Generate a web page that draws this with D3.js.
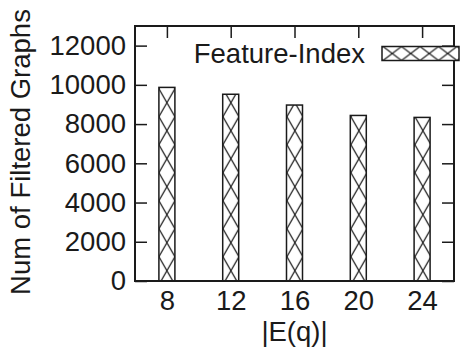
<!DOCTYPE html>
<html>
<head>
<meta charset="utf-8">
<script src="https://cdn.jsdelivr.net/npm/d3@7"></script>
<style>
  html, body { margin: 0; padding: 0; background: #fff; }
  svg { display: block; }
  text { font-family: "Liberation Sans", Arial, Helvetica, sans-serif; fill: #1a1a1a; }
</style>
</head>
<body>
<script>
const categories = [8, 12, 16, 20, 24];
const filteredGraphs = [9870, 9520, 8970, 8440, 8340];
const yTicks = [0, 2000, 4000, 6000, 8000, 10000, 12000];
const seriesName = "Feature-Index";
const xTitle = "|E(q)|";
const yTitle = "Num of Filtered Graphs";

const W = 462, H = 348;
const mLeft = 135, mRight = 454, mTop = 26, mBottom = 281;
const ink = "#1a1a1a";
const fontSize = 27.5;

const svg = d3.select("body").append("svg").attr("width", W).attr("height", H);

const x = d3.scalePoint().domain(categories).range([mLeft, mRight]).padding(0.5);
const y = d3.scaleLinear().domain([0, 13000]).range([mBottom, mTop]);
const barW = 16;

// patterns
const defs = svg.append("defs");
const bp = defs.append("pattern").attr("id", "hatchBar")
  .attr("patternUnits", "userSpaceOnUse")
  .attr("width", barW).attr("height", 28)
  .attr("x", x(categories[0]) - barW / 2).attr("y", y(0) - 24.3);
bp.append("rect").attr("width", barW).attr("height", 28).attr("fill", "#fff");
bp.append("path").attr("d", `M0,0L${barW},28M${barW},0L0,28`)
  .attr("stroke", ink).attr("stroke-width", 1.2).attr("fill", "none");

// axes (inward ticks)
const fmt = d3.format("d");
const gL = svg.append("g").attr("transform", `translate(${mLeft},0)`)
  .call(d3.axisLeft(y).tickValues(yTicks).tickSize(-12).tickPadding(9).tickFormat(fmt));
const gR = svg.append("g").attr("transform", `translate(${mRight},0)`)
  .call(d3.axisRight(y).tickValues(yTicks).tickSize(-12).tickFormat(""));
const gB = svg.append("g").attr("transform", `translate(0,${mBottom})`)
  .call(d3.axisBottom(x).tickSize(-12).tickPadding(9));
const gT = svg.append("g").attr("transform", `translate(0,${mTop})`)
  .call(d3.axisTop(x).tickSize(-12).tickFormat(""));

[gL, gR, gB, gT].forEach(g => {
  g.select(".domain").remove();
  g.selectAll(".tick line").attr("stroke", ink).attr("stroke-width", 1.5);
  g.selectAll(".tick text").attr("font-size", fontSize)
    .attr("font-family", '"Liberation Sans", Arial, sans-serif').attr("fill", ink);
});

// bars
svg.append("g").selectAll("rect").data(categories).join("rect")
  .attr("x", d => x(d) - barW / 2)
  .attr("y", (d, i) => y(filteredGraphs[i]))
  .attr("width", barW)
  .attr("height", (d, i) => y(0) - y(filteredGraphs[i]))
  .attr("fill", "url(#hatchBar)")
  .attr("stroke", ink).attr("stroke-width", 1.5);

// frame
svg.append("rect").attr("x", mLeft).attr("y", mTop)
  .attr("width", mRight - mLeft).attr("height", mBottom - mTop)
  .attr("fill", "none").attr("stroke", ink).attr("stroke-width", 2);

// legend
const lgX = 382, lgY = 46.5, lgW = 77, lgH = 14;
const lp = defs.append("pattern").attr("id", "hatchLeg")
  .attr("patternUnits", "userSpaceOnUse")
  .attr("width", 18.5).attr("height", lgH)
  .attr("x", lgX + 1).attr("y", lgY);
lp.append("rect").attr("width", 18.5).attr("height", lgH).attr("fill", "#fff");
lp.append("path").attr("d", `M0,0L18.5,${lgH}M18.5,0L0,${lgH}`)
  .attr("stroke", ink).attr("stroke-width", 1.2).attr("fill", "none");
svg.append("rect").attr("x", lgX).attr("y", lgY).attr("width", lgW).attr("height", lgH)
  .attr("fill", "url(#hatchLeg)").attr("stroke", ink).attr("stroke-width", 1.5);
svg.append("text").attr("x", 365).attr("y", 63).attr("text-anchor", "end")
  .attr("font-size", fontSize).text(seriesName);

// axis titles
svg.append("text").attr("x", (mLeft + mRight) / 2).attr("y", 341)
  .attr("text-anchor", "middle").attr("font-size", fontSize).text(xTitle);
svg.append("text").attr("transform", "translate(30,152) rotate(-90)")
  .attr("text-anchor", "middle").attr("font-size", fontSize).text(yTitle);
</script>
</body>
</html>
